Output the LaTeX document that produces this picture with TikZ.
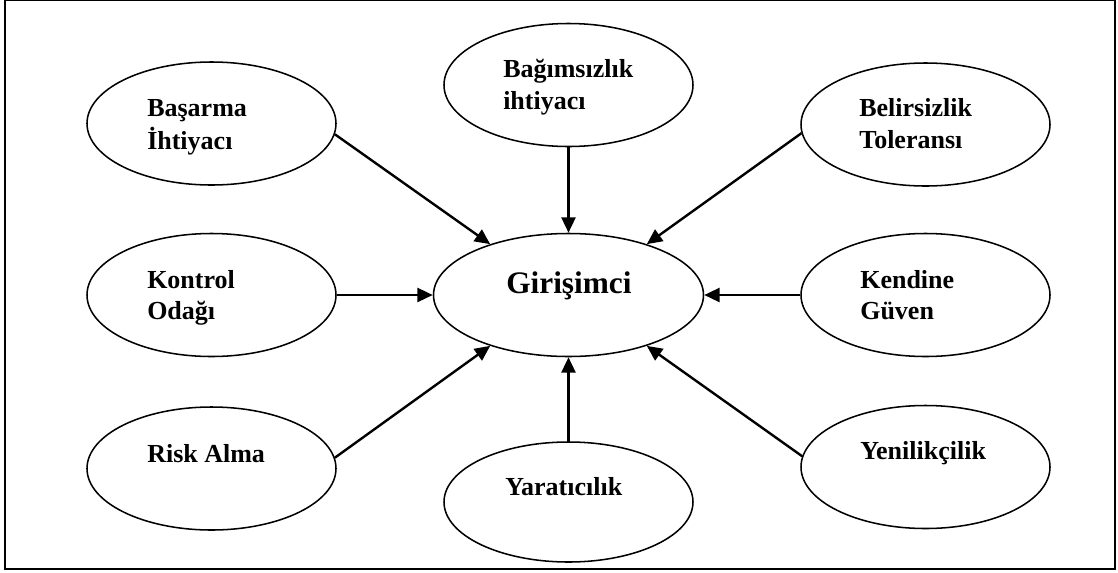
\documentclass[tikz,border=0pt]{standalone}
\usepackage{fontspec}
\setmainfont{Liberation Serif}
\usetikzlibrary{shapes.geometric,arrows.meta}
\begin{document}
\begin{tikzpicture}[x=0.75pt,y=-0.75pt,
  oval/.style={draw,ellipse,line width=1.15pt,minimum width=186.75pt,minimum height=92.25pt,inner sep=0pt},
  lbl/.style={anchor=base west,inner sep=0pt,font=\fontsize{19.5}{23}\selectfont\bfseries},
  big/.style={anchor=base west,inner sep=0pt,font=\fontsize{23.5}{28}\selectfont\bfseries},
  conn/.style={line width=1.8pt,-{Triangle[length=11.5pt,width=10.5pt]}}]
\useasboundingbox (0,0) rectangle (1118,572);
\draw[line width=1.2pt] (5,0) rectangle (1115,569);
% ellipses
\node[oval] (basarma) at (211.5,123.5) {};
\node[oval] (bag) at (568.5,85) {};
\node[oval] (belir) at (925.5,124.5) {};
\node[oval] (kontrol) at (211.5,295) {};
\node[oval,minimum width=202.5pt] (gir) at (568.5,295) {};
\node[oval] (kendine) at (925.5,295) {};
\node[oval] (risk) at (211.5,468.5) {};
\node[oval,minimum height=90pt] (yar) at (568.5,502) {};
\node[oval] (yeni) at (925.5,467) {};
% texts
\node[lbl] (t1) at (147,116) {Başarma};
\node[lbl] (t1b) at (147,149) {İhtiyacı};
\node[lbl] (t2) at (503,77) {Bağımsızlık};
\node[lbl] (t2b) at (503,109) {ihtiyacı};
\node[lbl] (t3) at (859,116) {Belirsizlik};
\node[lbl] (t3b) at (859,148) {Toleransı};
\node[lbl] (t4) at (147,288) {Kontrol};
\node[lbl] (t4b) at (147,319) {Odağı};
\node[lbl] (t5) at (860,288) {Kendine};
\node[lbl] (t5b) at (860,319) {Güven};
\node[lbl] (t6) at (147,462) {Risk Alma};
\node[lbl] (t7) at (505,495) {Yaratıcılık};
\node[lbl] (t8) at (860,459) {Yenilikçilik};
\node[big] (t9) at (506,293) {Girişimci};
% connectors
\draw[conn] (basarma.-5) -- (gir.147);
\draw[conn] (bag.south) -- (gir.north);
\draw[conn] (belir.-176) -- (gir.33);
\draw[conn] (kontrol.east) -- (gir.west);
\draw[conn] (kendine.west) -- (gir.east);
\draw[conn] (risk.5) -- (gir.213);
\draw[conn] (yar.north) -- (gir.south);
\draw[conn] (yeni.175) -- (gir.-33);
\end{tikzpicture}
\end{document}
